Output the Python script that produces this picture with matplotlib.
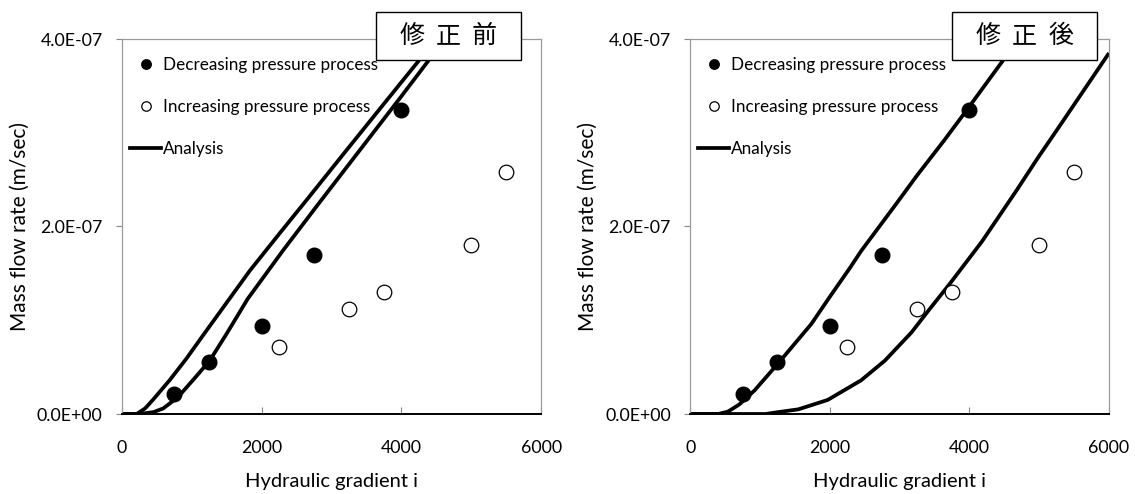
import numpy as np
import matplotlib
matplotlib.use("Agg")
import matplotlib.pyplot as plt
from matplotlib.lines import Line2D
from matplotlib.patches import Rectangle

plt.rcParams['font.family'] = ['Lato', 'Noto Sans CJK JP', 'DejaVu Sans']

# measured points (same in both panels)
dec_x = [750, 1250, 2000, 2750, 4000]
dec_y = [2.1e-8, 5.5e-8, 9.4e-8, 1.7e-7, 3.24e-7]
inc_x = [2250, 3250, 3750, 5000, 5500]
inc_y = [7.2e-8, 1.12e-7, 1.30e-7, 1.80e-7, 2.58e-7]

# analysis curves, before correction (修正前)
pre_a_x = [0, 210, 330, 440, 680, 920, 1160, 1490, 1830, 2270, 2650, 3220, 4000, 4500, 4700]
pre_a_y = [0, 0, 0.06e-7, 0.15e-7, 0.36e-7, 0.59e-7, 0.84e-7, 1.18e-7, 1.53e-7, 1.94e-7,
           2.29e-7, 2.82e-7, 3.54e-7, 4.00e-7, 4.18e-7]
pre_b_x = [0, 250, 450, 590, 800, 1060, 1255, 1500, 1800, 2300, 2800, 3410, 4000, 4500, 4800]
pre_b_y = [0, 0, 0.02e-7, 0.06e-7, 0.18e-7, 0.40e-7, 0.57e-7, 0.86e-7, 1.23e-7, 1.74e-7,
           2.23e-7, 2.82e-7, 3.39e-7, 3.88e-7, 4.15e-7]

# analysis curves, after correction (修正後)
post_a_x = [0, 400, 540, 700, 920, 1260, 1735, 2000, 2290, 2450, 2930, 3245, 3640, 3960, 4490, 4700]
post_a_y = [0, 0, 0.025e-7, 0.10e-7, 0.25e-7, 0.54e-7, 0.96e-7, 1.25e-7, 1.56e-7, 1.74e-7,
            2.22e-7, 2.54e-7, 2.92e-7, 3.24e-7, 3.78e-7, 4.02e-7]
post_b_x = [0, 1080, 1260, 1550, 1970, 2450, 2790, 3170, 3410, 3720, 4180, 4680, 4970, 5300, 5500, 6000]
post_b_y = [0, 0, 0.02e-7, 0.05e-7, 0.15e-7, 0.36e-7, 0.57e-7, 0.87e-7, 1.10e-7, 1.39e-7,
            1.84e-7, 2.39e-7, 2.72e-7, 3.08e-7, 3.30e-7, 3.85e-7]

x_ticks = [0, 2000, 4000, 6000]
y_ticks = [0, 2e-7, 4e-7]
y_tick_labels = ["0.0E+00", "2.0E-07", "4.0E-07"]
titles = [["修", "正", "前"], ["修", "正", "後"]]


def draw_panel(ax, curves, title, box):
    for cx, cy in curves:
        ax.plot(cx, cy, color='black', linewidth=2.7, solid_capstyle='butt',
                solid_joinstyle='round', zorder=2)
    ax.plot(dec_x, dec_y, 'o', color='black', markersize=10.5, zorder=3)
    ax.plot(inc_x, inc_y, 'o', markerfacecolor='white', markeredgecolor='black',
            markeredgewidth=0.9, markersize=10.5, zorder=3)

    ax.set_xlim(0, 6000)
    ax.set_ylim(0, 4e-7)
    ax.set_xticks(x_ticks)
    ax.set_xticklabels([str(t) for t in x_ticks])
    ax.set_yticks(y_ticks)
    ax.set_yticklabels(y_tick_labels)
    ax.tick_params(axis='x', direction='in', length=5, pad=19, labelsize=12.8, color='#888888')
    ax.tick_params(axis='y', direction='out', length=4, pad=10, labelsize=12.8, color='#888888')
    for s in ['left', 'top', 'right']:
        ax.spines[s].set_color('#999999')
        ax.spines[s].set_linewidth(0.9)
    ax.spines['bottom'].set_color('black')
    ax.spines['bottom'].set_linewidth(1.4)

    ax.set_xlabel("Hydraulic gradient i", fontsize=14.5, labelpad=12)
    ax.set_ylabel("Mass flow rate (m/sec)", fontsize=15, labelpad=5)

    handles = [
        Line2D([], [], marker='o', color='black', linestyle='none', markersize=6.8),
        Line2D([], [], marker='o', markerfacecolor='white', markeredgecolor='black',
               markeredgewidth=0.9, linestyle='none', markersize=6.8),
        Line2D([], [], color='black', linewidth=2.7),
    ]
    labels = ["Decreasing pressure process", "Increasing pressure process", "Analysis"]
    ax.legend(handles, labels, loc='upper left', bbox_to_anchor=(0.019, 0.952),
              frameon=False, fontsize=12.3, handlelength=1.82, handletextpad=0.1,
              labelspacing=1.52, borderaxespad=0, borderpad=0)

    x0, x1, y0, y1 = box
    ax.add_patch(Rectangle((x0, y0), x1 - x0, y1 - y0, transform=ax.transAxes,
                           facecolor='white', edgecolor='black', linewidth=1.0,
                           clip_on=False, zorder=5))
    xc, yc = (x0 + x1) / 2, (y0 + y1) / 2
    for k, ch in enumerate(title):
        ax.text(xc + (k - 1) * 0.087, yc, ch, transform=ax.transAxes,
                ha='center', va='center', fontsize=18, zorder=6,
                family=['Noto Sans CJK JP', 'DejaVu Sans'])


fig = plt.figure(figsize=(11.35, 4.94), dpi=100)
ax1 = fig.add_axes([122.1 / 1135, 80 / 494, 419 / 1135, 375 / 494])
ax2 = fig.add_axes([690.2 / 1135, 80 / 494, 418.8 / 1135, 375 / 494])

draw_panel(ax1, [(pre_a_x, pre_a_y), (pre_b_x, pre_b_y)], titles[0],
           (0.605, 0.951, 0.944, 1.073))
draw_panel(ax2, [(post_a_x, post_a_y), (post_b_x, post_b_y)], titles[1],
           (0.624, 0.971, 0.944, 1.073))

fig.savefig("out.png", dpi=100)
